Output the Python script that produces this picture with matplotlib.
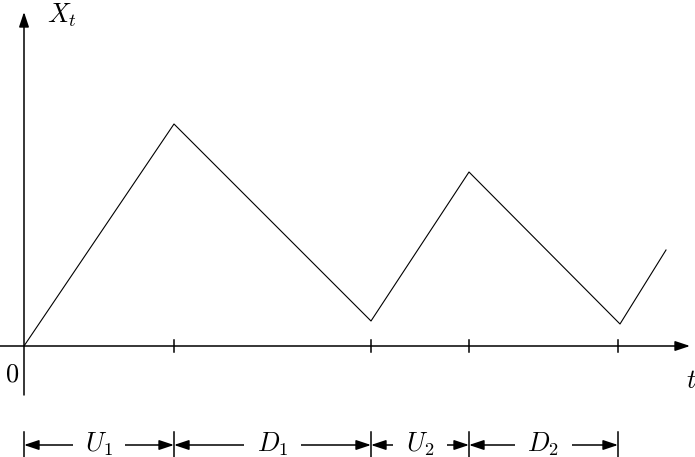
import matplotlib.pyplot as plt

plt.rcParams['mathtext.fontset'] = 'cm'

# datos del camino (t, X_t), en unidades del dibujo
tiempos = [0, 150, 347, 445, 596, 642]
valores = [0, 222, 25, 174, 22, 96]

# marcas del eje t (fin de cada intervalo)
marcas = [0, 150, 347, 445, 594]
etiquetas = ['$U_1$', '$D_1$', '$U_2$', '$D_2$']

fig = plt.figure(figsize=(6.95, 4.57), dpi=100)
ax = fig.add_axes([0, 0, 1, 1])
ax.set_xlim(-24, 671)
ax.set_ylim(-111, 346)
ax.axis('off')

flecha = dict(arrowstyle='-|>,head_length=0.9,head_width=0.3', color='black',
              lw=1.1, shrinkA=0, shrinkB=0, mutation_scale=10)

#ejes
ax.annotate('', xy=(666, 0), xytext=(-24, 0), arrowprops=flecha)
ax.annotate('', xy=(0, 334), xytext=(0, -49), arrowprops=flecha)

#marcas
for m in marcas[1:]:
    ax.plot([m, m], [-6, 6], color='black', lw=1.1)

#camino
ax.plot(tiempos, valores, color='black', lw=0.8)

#textos
ax.text(23, 331, '$X_t$', fontsize=19, ha='left', va='center')
ax.text(-12, -28, '$0$', fontsize=19, ha='center', va='center')
ax.text(667, -35, '$t$', fontsize=19, ha='center', va='center')

#intervalos
y_int = -99
doble = dict(arrowstyle='<|-|>,head_length=0.9,head_width=0.3', color='black',
             lw=1.1, shrinkA=0, shrinkB=0, mutation_scale=10)
for m in marcas:
    ax.plot([m, m], [-86, -111], color='black', lw=1.1)
for i, lab in enumerate(etiquetas):
    a, b = marcas[i], marcas[i + 1]
    ax.annotate('', xy=(b, y_int), xytext=(a, y_int), arrowprops=doble)
    ax.text((a + b) / 2, y_int + 1, lab, fontsize=19, ha='center', va='center',
            bbox=dict(facecolor='white', edgecolor='none', pad=9))

fig.savefig('out.png', dpi=100)
